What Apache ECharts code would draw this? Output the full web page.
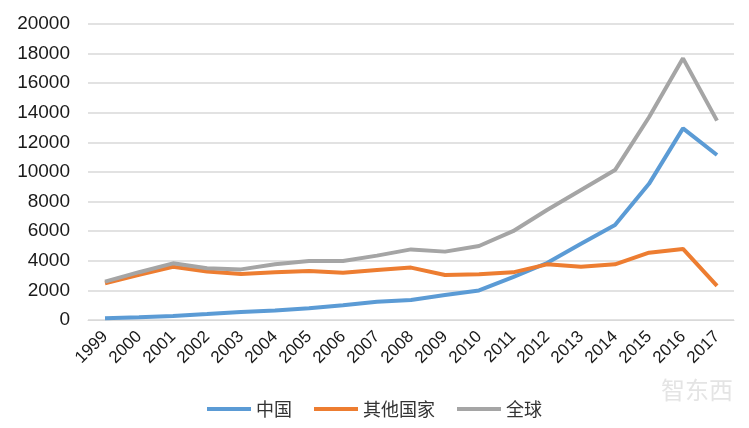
<!DOCTYPE html>
<html><head><meta charset="utf-8">
<script src="https://cdn.jsdelivr.net/npm/echarts@6/dist/echarts.min.js"></script>
<style>html,body{margin:0;padding:0;background:#fff}#c{width:749px;height:428px}</style>
</head><body><div id="c"></div>
<script>
const years = ['1999','2000','2001','2002','2003','2004','2005','2006','2007','2008','2009','2010','2011','2012','2013','2014','2015','2016','2017'];
const china = [110, 180, 270, 400, 540, 650, 790, 1000, 1240, 1350, 1690, 2000, 2900, 3850, 5150, 6420, 9200, 12950, 11150];
const others = [2480, 3050, 3600, 3270, 3110, 3220, 3310, 3200, 3380, 3540, 3040, 3090, 3220, 3760, 3600, 3760, 4550, 4800, 2300];
const world = [2590, 3230, 3830, 3490, 3420, 3760, 3990, 3990, 4350, 4770, 4620, 5000, 6000, 7430, 8780, 10130, 13700, 17680, 13470];
const yTicks = [0, 20000, 2000];
const names = ['中国', '其他国家', '全球'];

const chart = echarts.init(document.getElementById('c'));
const mk = (name, data, color) => ({
  name, type: 'line', data, symbol: 'none', smooth: false,
  lineStyle: { width: 4, color }, itemStyle: { color }
});
chart.setOption({
  backgroundColor: '#fff',
  animation: false,
  grid: { left: 88, right: 15, top: 24, bottom: 108 },
  xAxis: {
    type: 'category', data: years, boundaryGap: true,
    axisLine: { lineStyle: { color: '#d9d9d9' } },
    axisTick: { show: false },
    axisLabel: { rotate: 45, fontSize: 17, color: '#1a1a1a', fontFamily: 'Liberation Sans, Arial', margin: 14 }
  },
  yAxis: {
    type: 'value', min: yTicks[0], max: yTicks[1], interval: yTicks[2],
    axisLine: { show: false }, axisTick: { show: false },
    splitLine: { lineStyle: { color: '#d9d9d9', width: 1.5 } },
    axisLabel: { fontSize: 19, color: '#1a1a1a', fontFamily: 'Liberation Sans, Arial', margin: 18,
      formatter: v => String(v) }
  },
  legend: {
    bottom: 5, left: 'center', icon: 'rect', itemWidth: 44, itemHeight: 4, itemGap: 22,
    textStyle: { fontSize: 18, color: '#333', fontFamily: 'Noto Sans CJK SC' },
    data: names
  },
  graphic: [{
    type: 'text', right: 16, bottom: 26,
    style: { text: '智东西', fontSize: 24, fill: 'rgba(205,205,205,0.55)', fontFamily: 'Noto Sans CJK SC' }
  }],
  series: [
    mk(names[0], china, '#5B9BD5'),
    mk(names[1], others, '#ED7D31'),
    mk(names[2], world, '#A5A5A5')
  ]
});
</script></body></html>
